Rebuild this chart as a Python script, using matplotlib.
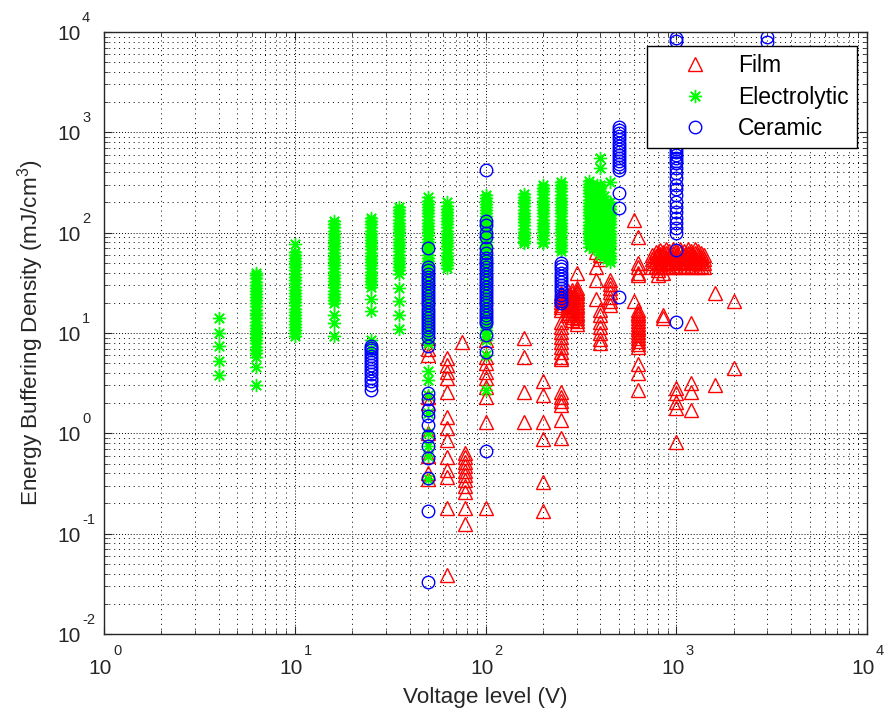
import matplotlib
matplotlib.use('Agg')
import matplotlib.pyplot as plt
from matplotlib.transforms import offset_copy

plt.rcParams['font.family'] = ['Liberation Sans', 'DejaVu Sans']
plt.rcParams['mathtext.fontset'] = 'custom'
plt.rcParams['mathtext.rm'] = 'Liberation Sans'
plt.rcParams['mathtext.it'] = 'Liberation Sans:italic'
plt.rcParams['mathtext.bf'] = 'Liberation Sans:bold'
plt.rcParams['axes.unicode_minus'] = False

# ---------------- data (voltage level V -> energy buffering density mJ/cm^3) -------------
film_v = [50, 63, 75, 78, 100, 160, 200, 250, 270, 285, 300, 380, 400, 450, 600, 630,
          750, 780, 800, 820, 850, 880, 920, 960, 1000, 1050, 1100, 1150, 1200,
          1250, 1300, 1350, 1400, 1600, 2000]
film_e = [
    [9, 7, 6, 2.3, 2.0, 1.0, 0.6, 0.4, 0.35],                                   # 50
    [5.6, 4.8, 4.1, 3.6, 2.6, 1.45, 1.12, 0.85, 0.58, 0.43, 0.37, 0.18, 0.039],  # 63
    [8.1],                                                                      # 75
    [0.63, 0.58, 0.52, 0.47, 0.42, 0.38, 0.34, 0.3, 0.26, 0.18, 0.126],         # 78
    [8.5, 5.7, 5.0, 4.1, 3.6, 2.9, 2.3, 1.3, 0.18],                             # 100
    [8.9, 5.8, 2.6, 1.3],                                                       # 160
    [3.3, 2.4, 1.3, 0.88, 0.33, 0.17],                                          # 200
    [25, 23.5, 22, 20.5, 19, 18, 17, 12.9, 11.5, 10.3, 9.2, 8.2, 7.3, 6.5, 5.8,
     5.5, 2.6, 2.3, 2.1, 1.9, 1.35, 0.9],                                       # 250
    [26, 24, 22.5, 21, 19.5, 18, 17, 16, 15],                                   # 270
    [27, 25, 23, 21.5, 20, 18.5, 17, 15.8, 14.6, 13.5],                         # 285
    [40, 28, 26.5, 25, 23.5, 22, 20.5, 19, 18, 17, 16, 15, 14, 13.2, 12.4],     # 300
    [64, 45, 34, 22],                                                           # 380
    [60, 55, 17, 15, 13, 11.5, 10, 8.8, 7.9],                                   # 400
    [34, 31, 28, 25.5, 23, 21, 19],                                             # 450
    [134, 21],                                                                  # 600
    [90, 50, 45, 40, 38, 17, 16, 15, 14, 13.2, 12.4, 11.6, 10.9, 10.2, 9.6, 9.0,
     8.4, 7.8, 7.3, 4.9, 4.0, 2.7],                                             # 630
    [46, 50, 55, 60],                                                           # 750
    [47, 52, 58, 64],                                                           # 780
    [42, 38, 46, 51, 57, 63],                                                   # 800
    [46, 50, 55, 61, 67],                                                       # 820
    [15, 14, 40, 46, 52, 58, 64],                                               # 850
    [47, 51, 56, 62, 68],                                                       # 880
    [46, 50, 55, 60, 65],                                                       # 920
    [47, 52, 57, 63, 69],                                                       # 960
    [46, 50, 55, 60, 66, 2.8, 2.5, 2.05, 1.8, 0.82],                            # 1000
    [47, 51, 56, 62, 68],                                                       # 1050
    [46, 50, 55, 60, 65],                                                       # 1100
    [47, 52, 57, 63, 69],                                                       # 1150
    [46, 50, 55, 61, 66, 12.5, 3.2, 2.6, 1.7],                                  # 1200
    [47, 51, 56, 62, 68],                                                       # 1250
    [46, 50, 55, 60, 65],                                                       # 1300
    [47, 52, 57, 63],                                                           # 1350
    [46, 50, 55, 60],                                                           # 1400
    [25, 3.0],                                                                  # 1600
    [21, 4.5],                                                                  # 2000
]

elec_v = [4, 6.3, 10, 16, 25, 35, 50, 63, 100, 160, 200, 250,
          350, 370, 385, 400, 420, 435, 450]
elec_e = [
    [14, 10, 7.5, 5.3, 3.8],
    [40, 37.5, 35, 32.5, 30, 28, 26, 24.5, 23, 21.5, 20, 18.5, 17, 16, 15, 14, 13,
     12, 11.2, 10.5, 9.8, 9.1, 8.5, 7.9, 7.3, 6.8, 6.3, 5.8, 4.6, 3.0],
    [77, 64, 60, 56, 52, 48.5, 45, 42, 39, 36.5, 34, 31.5, 29, 27, 25, 23.5, 22,
     20.5, 19, 17.5, 16.3, 15.2, 14.1, 13.1, 12.2, 11.4, 10.6, 9.9, 9.3],
    [130, 121, 113, 105, 98, 91, 85, 79, 73, 68, 63, 59, 55, 51, 47.5, 44, 41, 38,
     35.5, 33, 30.5, 28.5, 26.5, 24.5, 22.8, 21.2, 20, 15, 12.5, 9.3],
    [140, 130, 121, 113, 105, 98, 91, 85, 79, 73, 68, 63, 59, 55, 51, 47.5, 44, 41,
     38, 35.5, 33, 30.5, 28.8, 22, 16.5, 8.5, 7.0],
    [180, 168, 156, 145, 135, 126, 117, 109, 101, 94, 87, 81, 75, 70, 65, 60, 56,
     52, 48.5, 45, 42, 39, 28, 21, 15, 11],
    [225, 209, 194, 180, 168, 156, 145, 135, 126, 117, 109, 101, 94, 87, 81, 75, 70,
     65, 60, 56, 52, 48.5, 45, 42, 39, 36.5, 34, 31.5, 29, 27, 25, 23.5, 22, 20.5,
     19, 17.5, 16.3, 15.2, 14.1, 13.1, 12.2, 11.4, 10.6, 9.9, 9.2, 8.5, 7.9,
     4.2, 3.4, 2.4, 1.6, 1.0, 0.75, 0.6, 0.35],
    [200, 186, 173, 161, 150, 140, 130, 121, 113, 105, 98, 91, 85, 79, 73, 68, 63,
     59, 55, 51, 47.5, 44],
    [240, 223, 207, 193, 180, 168, 156, 145, 135, 126, 117, 109, 101, 94, 87, 81,
     75, 70, 65, 60, 56, 52, 48.5, 45, 42, 39, 36.5, 34, 31.5, 29, 27, 25, 23.5,
     22, 20.5, 19, 17.5, 16.3, 15.2, 14.1, 13.1, 12.2, 11.4, 10.6, 9.9, 8.5, 6.0,
     2.7],
    [245, 228, 212, 197, 183, 170, 158, 147, 137, 127, 118, 110, 102, 95, 88, 82, 78],
    [300, 279, 259, 241, 224, 208, 194, 180, 168, 156, 145, 135, 126, 117, 109, 101,
     94, 87, 81, 78],
    [320, 298, 277, 258, 240, 223, 207, 193, 180, 168, 156, 145, 135, 126, 117, 109,
     101, 94, 87, 81, 75, 70, 65],
    [330, 307, 286, 266, 247, 230, 214, 199, 185, 172, 160, 149, 139, 129, 120, 112,
     104, 97, 90, 84, 78, 72],
    [280, 260, 242, 225, 209, 194, 180, 168, 156, 145, 135, 126, 117, 109, 101, 94,
     87, 81, 75, 70],
    [300, 250, 233, 217, 202, 188, 175, 163, 152, 141, 131, 122, 113, 105, 98, 91,
     85, 79, 73, 68],
    [560, 440, 300, 279, 259, 241, 224, 208, 194, 180, 168, 156, 145, 135, 126, 117,
     109, 101, 94, 87, 81, 75, 70, 65, 60],
    [230, 214, 199, 185, 172, 160, 149, 139, 129, 120, 112, 104, 97, 90, 84, 78, 72,
     67, 62, 58],
    [200, 186, 173, 161, 150, 140, 130, 121, 113, 105, 98, 91, 85, 79, 73, 68, 63,
     59, 55],
    [320, 200, 186, 173, 161, 150, 140, 130, 121, 113, 105, 98, 91, 85, 79, 73, 68,
     63, 59, 55, 51],
]

cer_v = [25, 50, 100, 250, 500, 1000, 3000]
cer_e = [
    [7.5, 7.1, 6.7, 6.3, 5.9, 5.5, 5.1, 4.8, 4.5, 4.2, 3.9, 3.6, 3.3, 3.0, 2.7],
    [70, 45, 42, 39, 36.5, 34, 31.5, 29, 27, 25, 23.5, 22, 20.5, 19, 17.5, 16.3,
     15.2, 14.1, 13.1, 12.2, 11.4, 10.6, 9.9, 9.2, 7.5, 2.5, 2.2, 1.7, 1.5, 1.2,
     0.95, 0.75, 0.57, 0.36, 0.17, 0.033],
    [420, 130, 120, 100, 90, 70, 62, 56, 52, 48.5, 45, 42, 39, 36.5, 34, 31.5, 29,
     27, 25, 23.5, 22, 20.5, 19, 17.5, 16.3, 15.2, 14.1, 13.1, 12.5, 9.5, 6.5, 0.66],
    [50, 46.5, 43, 40, 37, 34.5, 32, 30, 28, 26, 24, 22.5, 21, 20],
    [1130, 1050, 980, 910, 850, 790, 735, 685, 640, 595, 555, 515, 480, 450, 420,
     248, 176, 22.8],
    [8800, 8200, 720, 680, 640, 600, 555, 520, 495, 440, 395, 350, 300, 270, 240,
     202, 180, 160, 140, 125, 111, 99, 67, 12.9],
    [8900, 7900],
]

series_names = ['Film', 'Electrolytic', 'Ceramic']
x_label = 'Voltage level (V)'
y_label = 'Energy Buffering Density (mJ/cm$^3$)'
x_exponents = ['0', '1', '2', '3', '4']
y_exponents = ['-2', '-1', '0', '1', '2', '3', '4']


def flatten(vs, es):
    xs, ys = [], []
    for v, col in zip(vs, es):
        for e in col:
            xs.append(v)
            ys.append(e)
    return xs, ys


fig = plt.figure(figsize=(8.88, 7.13), dpi=100)
ax = fig.add_axes([104 / 888, 79 / 713, 763 / 888, 602 / 713])

fx, fy = flatten(film_v, film_e)
ex, ey = flatten(elec_v, elec_e)
cx, cy = flatten(cer_v, cer_e)

ax.plot(fx, fy, linestyle='none', marker='^', markerfacecolor='none',
        markeredgecolor=(1, 0, 0), markersize=10, markeredgewidth=1.0,
        label=series_names[0])
ax.plot(ex, ey, linestyle='none', marker=(8, 2, 0), color=(0, 1, 0),
        markersize=9.5, markeredgewidth=1.0, label=series_names[1])
ax.plot(cx, cy, linestyle='none', marker='o', markerfacecolor='none',
        markeredgecolor=(0, 0, 1), markersize=9, markeredgewidth=1.0,
        label=series_names[2])

ax.set_xscale('log')
ax.set_yscale('log')
ax.set_xlim(1, 1e4)
ax.set_ylim(1e-2, 1e4)

ax.grid(True, which='major', linestyle=(0, (1, 2)), color='k', linewidth=0.7)
ax.grid(True, which='minor', linestyle=(0, (1, 4)), color='k', linewidth=0.7)
ax.tick_params(which='both', direction='in', top=True, right=True,
               labelbottom=False, labelleft=False, colors='#262626')
ax.tick_params(which='major', length=6, width=0.8)
ax.tick_params(which='minor', length=3, width=0.6)
for sp in ax.spines.values():
    sp.set_linewidth(1.0)
    sp.set_color('#262626')

# MATLAB-style tick labels: "10" with a small raised exponent
txt_col = '#262626'
base_fs = 15
exp_fs = 10.5
xt = ax.get_xaxis_transform()
for e in x_exponents:
    v = 10.0 ** int(e)
    ax.text(v, 0, '10', fontsize=base_fs, color=txt_col, ha='right', va='baseline',
            transform=offset_copy(xt, fig=fig, x=8, y=-40, units='dots'))
    ax.text(v, 0, e, fontsize=exp_fs, color=txt_col, ha='left', va='baseline',
            transform=offset_copy(xt, fig=fig, x=9, y=-21, units='dots'))
yt = ax.get_yaxis_transform()
for e in y_exponents:
    v = 10.0 ** int(e)
    ax.text(0, v, '10', fontsize=base_fs, color=txt_col, ha='right', va='baseline',
            transform=offset_copy(yt, fig=fig, x=-23, y=-8, units='dots'))
    ax.text(0, v, e, fontsize=exp_fs, color=txt_col, ha='left', va='baseline',
            transform=offset_copy(yt, fig=fig, x=-22, y=10, units='dots'))

ax.set_xlabel(x_label, fontsize=16.2, color=txt_col)
ax.xaxis.set_label_coords(0.5, (634 - 687) / 602)
ax.set_ylabel(y_label, fontsize=16.2, color=txt_col)
ax.yaxis.set_label_coords((46 - 104) / 763, 0.5)

leg = ax.legend(loc='upper right', bbox_to_anchor=(857 / 888, 667 / 713),
                bbox_transform=fig.transFigure, borderaxespad=0, fontsize=16.5,
                fancybox=False, framealpha=1, edgecolor='k', numpoints=1,
                handlelength=3.5, handletextpad=0.13, borderpad=0.35,
                labelspacing=0.38)
leg.get_frame().set_linewidth(1.0)

fig.savefig('out.png', dpi=100)
